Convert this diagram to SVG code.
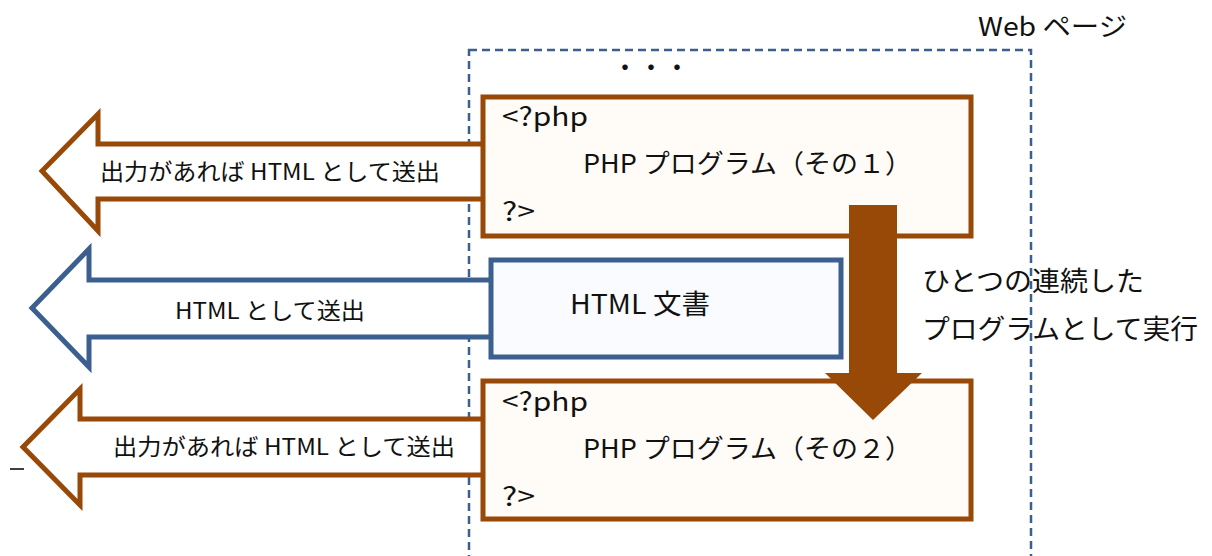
<svg xmlns="http://www.w3.org/2000/svg" width="1212" height="556" viewBox="0 0 1212 556">
<style>
text{font-family:"Noto Sans CJK JP","Noto Sans",sans-serif;fill:#111}
.php{fill:#FFFBF6;stroke:#984807;stroke-width:5}
.html{fill:#F9FBFE;stroke:#3B6090;stroke-width:5}
.aB{fill:#fff;stroke:#984807;stroke-width:5;stroke-linejoin:miter}
.aH{fill:#fff;stroke:#3B6090;stroke-width:5;stroke-linejoin:miter}
.t23{font-size:23px}
.t26{font-size:26px}
.t27{font-size:27px}
</style>
<rect x="469" y="50" width="562" height="520" fill="none" stroke="#3B6090" stroke-width="2.5" stroke-dasharray="8,5"/>
<text x="978" y="36" class="t26" textLength="149" lengthAdjust="spacingAndGlyphs">Web ページ</text>
<text x="612" y="77" class="t26">・・・</text>
<g id="connectors">
<path class="aB" d="M483,144 L98,144 L98,114 L42,171 L98,231 L98,199 L483,199"/>
<path class="aH" d="M491,280 L89,280 L89,249 L32,308 L89,367 L89,337 L491,337"/>
<path class="aB" d="M483,419 L80,419 L80,389 L23,447 L80,505 L80,475 L483,475"/>
<line x1="10" y1="469" x2="24" y2="469" stroke="#000" stroke-width="1.5"/>
</g>
<g id="php1">
<rect class="php" x="483" y="97" width="488" height="139"/>
<text x="502" y="126" class="t26" textLength="86" lengthAdjust="spacingAndGlyphs">&lt;?php</text>
<text x="583" y="173" class="t26" textLength="329" lengthAdjust="spacingAndGlyphs">PHP プログラム（その１）</text>
<text x="502" y="221" class="t26" textLength="33" lengthAdjust="spacingAndGlyphs">?&gt;</text>
</g>
<g id="html">
<rect class="html" x="491" y="260" width="350" height="97"/>
<text x="570" y="314" class="t27" textLength="140" lengthAdjust="spacingAndGlyphs">HTML 文書</text>
</g>
<g id="php2">
<rect class="php" x="483" y="381" width="488" height="138"/>
<text x="502" y="411" class="t26" textLength="86" lengthAdjust="spacingAndGlyphs">&lt;?php</text>
<text x="583" y="458" class="t26" textLength="329" lengthAdjust="spacingAndGlyphs">PHP プログラム（その２）</text>
<text x="502" y="506" class="t26" textLength="33" lengthAdjust="spacingAndGlyphs">?&gt;</text>
</g>
<g id="labels">
<text x="100" y="180" class="t23" textLength="340" lengthAdjust="spacingAndGlyphs">出力があれば HTML として送出</text>
<text x="175" y="319" class="t23" textLength="190" lengthAdjust="spacingAndGlyphs">HTML として送出</text>
<text x="113" y="455" class="t23" textLength="342" lengthAdjust="spacingAndGlyphs">出力があれば HTML として送出</text>
</g>
<g id="flow">
<path d="M849,205 L897,205 L897,373 L922,373 L873,420 L825,373 L849,373 Z" fill="#984807"/>
<text x="922" y="291" class="t27" textLength="222" lengthAdjust="spacingAndGlyphs">ひとつの連続した</text>
<text x="922" y="339" class="t27" textLength="276" lengthAdjust="spacingAndGlyphs">プログラムとして実行</text>
</g>
</svg>
